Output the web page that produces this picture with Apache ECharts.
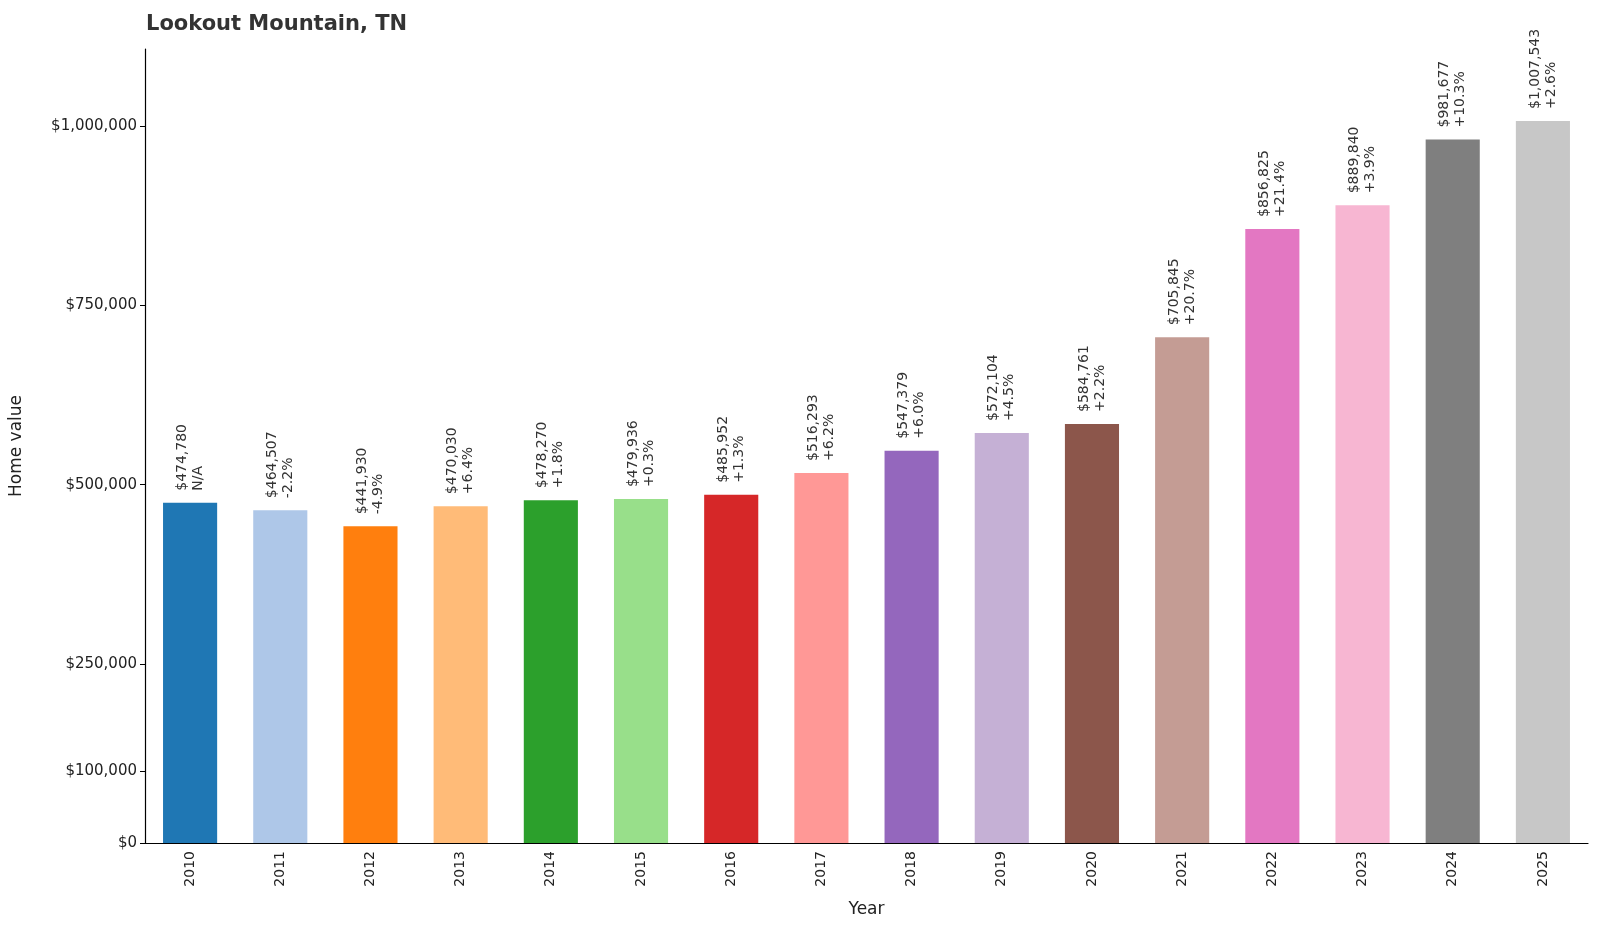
<!DOCTYPE html>
<html>
<head>
<meta charset="utf-8">
<script src="https://cdn.jsdelivr.net/npm/echarts@6/dist/echarts.min.js"></script>
<style>html,body{margin:0;padding:0;background:#fff}#chart{width:1600px;height:927px}</style>
</head>
<body>
<div id="chart"></div>
<script>
const years = ['2010','2011','2012','2013','2014','2015','2016','2017','2018','2019','2020','2021','2022','2023','2024','2025']
const values = [474780,464507,441930,470030,478270,479936,485952,516293,547379,572104,584761,705845,856825,889840,981677,1007543]
const changes = ['N/A','-2.2%','-4.9%','+6.4%','+1.8%','+0.3%','+1.3%','+6.2%','+6.0%','+4.5%','+2.2%','+20.7%','+21.4%','+3.9%','+10.3%','+2.6%']
const yTicks = [0,100000,250000,500000,750000,1000000]
const colors = ['#1f77b4','#aec7e8','#ff7f0e','#ffbb78','#2ca02c','#98df8a','#d62728','#ff9896','#9467bd','#c5b0d5','#8c564b','#c49c94','#e377c2','#f7b6d2','#7f7f7f','#c7c7c7']

const fmt = v => '$' + v.toLocaleString('en-US')
const font = 'DejaVu Sans'

const chart = echarts.init(document.getElementById('chart'))
chart.setOption({
  animation: false,
  textStyle: {fontFamily: font},
  title: {
    text: 'Lookout Mountain, TN',
    left: 141, top: 9,
    textStyle: {fontSize: 21, fontWeight: 'bold', color: '#333', fontFamily: font}
  },
  grid: {left: 143, right: 12, top: 49, bottom: 84},
  xAxis: {
    type: 'category',
    data: years,
    name: 'Year',
    nameLocation: 'middle',
    nameGap: 58,
    nameTextStyle: {fontSize: 17, color: '#222'},
    axisLine: {lineStyle: {color: '#000', width: 1.2}},
    axisTick: {alignWithLabel: true, lineStyle: {color: '#000'}},
    axisLabel: {rotate: 90, fontSize: 14, color: '#222', margin: 8}
  },
  yAxis: {
    type: 'value',
    min: 0,
    max: 1108000,
    name: 'Home value',
    nameLocation: 'middle',
    nameGap: 120,
    nameTextStyle: {fontSize: 17, color: '#222'},
    splitLine: {show: false},
    axisLine: {show: true, lineStyle: {color: '#000', width: 1.2}},
    axisTick: {show: true, customValues: yTicks, lineStyle: {color: '#000'}},
    axisLabel: {customValues: yTicks, formatter: fmt, fontSize: 15, color: '#222'}
  },
  series: [{
    type: 'bar',
    barWidth: '60%',
    data: values.map((v, i) => ({value: v, itemStyle: {color: colors[i]}})),
    label: {
      show: true,
      position: 'top',
      rotate: 90,
      align: 'left',
      verticalAlign: 'middle',
      distance: 12,
      fontSize: 14,
      lineHeight: 16,
      color: '#333',
      formatter: p => fmt(p.value) + '\n' + changes[p.dataIndex]
    }
  }]
})
</script>
</body>
</html>
